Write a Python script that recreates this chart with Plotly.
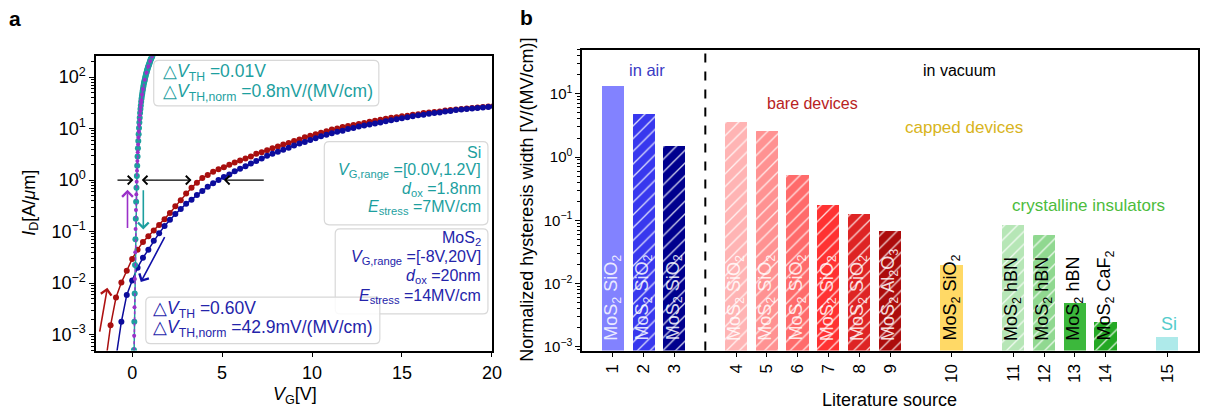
import plotly.graph_objects as go

W, H = 1210, 417
def px(x): return x / W
def py(y): return 1 - y / H

FONT = "Liberation Sans, Arial, sans-serif"
TEAL = "#1d9f9f"
BLUE = "#2424aa"

# ---------------- Panel a data ----------------
mos2_vg = [-1.5, -1.2, -0.9, -0.6, -0.3, 0.0, 0.3, 0.6, 0.9, 1.2, 1.5, 1.8, 2.1, 2.4, 2.7,
           3.0, 3.3, 3.6, 3.9, 4.2, 4.5, 4.8, 5.1, 5.4, 5.7, 6.0, 6.3, 6.6, 6.9, 7.2, 7.5,
           7.8, 8.1, 8.4, 8.7, 9.0, 9.3, 9.6, 9.9, 10.2, 10.5, 10.8, 11.1, 11.4, 11.7, 12.0,
           12.3, 12.6, 12.9, 13.2, 13.5, 13.8, 14.1, 14.4, 14.7, 15.0, 15.3, 15.6, 15.9, 16.2,
           16.5, 16.8, 17.1, 17.4, 17.7, 18.0, 18.3, 18.6, 18.9, 19.2, 19.5, 19.8, 20.1]
# log10(I_D) forward sweep (dark red)
mos2_fwd_log_id = [-3.6, -2.82, -2.28, -1.99, -1.76, -1.53, -1.35, -1.20, -1.09, -0.98, -0.87,
                   -0.76, -0.64, -0.51, -0.39, -0.26, -0.15, -0.05, 0.04, 0.10, 0.16, 0.21, 0.25,
                   0.30, 0.34, 0.38, 0.42, 0.46, 0.51, 0.54, 0.58, 0.62, 0.65, 0.69, 0.72, 0.76,
                   0.79, 0.83, 0.86, 0.89, 0.92, 0.95, 0.98, 1.00, 1.03, 1.05, 1.07, 1.09, 1.11,
                   1.13, 1.15, 1.17, 1.19, 1.21, 1.22, 1.24, 1.25, 1.27, 1.28, 1.30, 1.31, 1.32,
                   1.33, 1.35, 1.36, 1.37, 1.38, 1.39, 1.40, 1.41, 1.42, 1.43, 1.44]
# log10(I_D) reverse sweep (dark blue)
mos2_rev_log_id = [-5.0, -4.2, -3.45, -2.75, -2.23, -1.95, -1.70, -1.51, -1.35, -1.18, -1.03,
                   -0.89, -0.77, -0.66, -0.56, -0.46, -0.38, -0.29, -0.21, -0.13, -0.06, 0.00,
                   0.06, 0.11, 0.17, 0.22, 0.27, 0.32, 0.37, 0.42, 0.47, 0.51, 0.55, 0.59, 0.63,
                   0.67, 0.71, 0.74, 0.78, 0.81, 0.85, 0.88, 0.91, 0.94, 0.96, 0.99, 1.01, 1.04,
                   1.06, 1.08, 1.10, 1.12, 1.14, 1.16, 1.18, 1.20, 1.22, 1.24, 1.26, 1.27, 1.29,
                   1.30, 1.31, 1.33, 1.34, 1.36, 1.37, 1.38, 1.39, 1.40, 1.41, 1.42, 1.43]

si_rev_vg = [0.06, 0.08, 0.10, 0.12, 0.14, 0.16, 0.18, 0.20, 0.22, 0.24, 0.26, 0.28, 0.30, 0.32,
             0.34, 0.36, 0.38, 0.40, 0.42, 0.44, 0.46, 0.48, 0.50, 0.52, 0.54, 0.56, 0.58, 0.60,
             0.62, 0.64, 0.66, 0.68, 0.70, 0.72, 0.74, 0.76, 0.78, 0.80, 0.82, 0.84, 0.86, 0.88,
             0.90, 0.92, 0.94, 0.96, 0.98, 1.00, 1.02, 1.04, 1.06, 1.08, 1.10, 1.12, 1.14, 1.16,
             1.18, 1.20]
si_rev_log_id = [-4.4, -3.85, -3.30, -2.75, -2.20, -1.65, -1.15, -0.75, -0.42, -0.15, 0.08, 0.28,
                 0.46, 0.62, 0.76, 0.89, 1.01, 1.12, 1.21, 1.30, 1.38, 1.45, 1.52, 1.58, 1.63,
                 1.68, 1.73, 1.77, 1.81, 1.85, 1.89, 1.92, 1.95, 1.98, 2.01, 2.04, 2.07, 2.09,
                 2.12, 2.14, 2.16, 2.19, 2.21, 2.23, 2.25, 2.27, 2.29, 2.31, 2.33, 2.35, 2.36,
                 2.38, 2.40, 2.41, 2.43, 2.44, 2.46, 2.47]
si_fwd_vg = [0.07, 0.09, 0.11, 0.13, 0.15, 0.17, 0.19, 0.21, 0.23, 0.25, 0.27, 0.29, 0.31, 0.33,
             0.35, 0.37, 0.39, 0.41, 0.43, 0.45, 0.47, 0.49, 0.51, 0.55, 0.60, 0.70, 0.80, 0.90,
             1.00, 1.10, 1.20]
si_fwd_log_id = [-4.12, -3.57, -3.02, -2.47, -1.92, -1.40, -0.95, -0.58, -0.28, -0.03, 0.18, 0.37,
                 0.54, 0.69, 0.83, 0.95, 1.07, 1.17, 1.26, 1.34, 1.42, 1.49, 1.55, 1.66, 1.77,
                 1.95, 2.09, 2.21, 2.31, 2.40, 2.47]

a_ytick_vals = [1e-3, 1e-2, 1e-1, 1, 10, 100]
a_ytick_text = ["10<sup>−3</sup>", "10<sup>−2</sup>", "10<sup>−1</sup>", "10<sup>0</sup>",
                "10<sup>1</sup>", "10<sup>2</sup>"]
b_ytick_vals = [1e-3, 1e-2, 1e-1, 1, 10]
b_ytick_text = ["10<sup>−3</sup>", "10<sup>−2</sup>", "10<sup>−1</sup>", "10<sup>0</sup>",
                "10<sup>1</sup>"]

# ---------------- Panel b data ----------------
lit_source = ["1", "2", "3", "4", "5", "6", "7", "8", "9", "10", "11", "12", "13", "14", "15"]
lit_pos = [0, 1, 2, 4, 5, 6, 7, 8, 9, 11, 13, 14, 15, 16, 18]
hyst_width = [13.3, 4.9, 1.5, 3.7, 2.6, 0.53, 0.18, 0.13, 0.07, 0.020, 0.087, 0.059,
              0.0050, 0.0025, 0.00145]
bar_colors = ["#8282ff", "#3838ee", "#00008e", "#ffb4b4", "#ff9292", "#ff6b6b", "#ff3232",
              "#de2424", "#ac0c0c", "#ffd966", "#b6e6b6", "#90d890", "#3cb83c", "#24a824",
              "#aeeaea"]
bar_hatch = ["", "/", "/", "/", "/", "/", "/", "/", "/", "", "/", "/", "", "/", ""]
bar_labels = ["MoS<sub>2</sub> SiO<sub>2</sub>"] * 8 + ["MoS<sub>2</sub> Al<sub>2</sub>O<sub>3</sub>",
              "MoS<sub>2</sub> SiO<sub>2</sub>", "MoS<sub>2</sub> hBN", "MoS<sub>2</sub> hBN",
              "MoS<sub>2</sub> hBN", "MoS<sub>2</sub> CaF<sub>2</sub>", ""]
label_colors = ["rgba(255,255,255,0.85)"] * 9 + ["black"] * 5 + ["black"]

fig = go.Figure()

fig.add_trace(go.Scatter(x=mos2_vg, y=[10 ** v for v in mos2_fwd_log_id], mode="lines+markers",
                         line=dict(color="#a80f0f", width=1.5), marker=dict(size=6, color="#a80f0f"),
                         xaxis="x", yaxis="y", showlegend=False))
fig.add_trace(go.Scatter(x=mos2_vg, y=[10 ** v for v in mos2_rev_log_id], mode="lines+markers",
                         line=dict(color="#0c0c9c", width=1.5), marker=dict(size=6, color="#0c0c9c"),
                         xaxis="x", yaxis="y", showlegend=False))
fig.add_trace(go.Scatter(x=si_rev_vg, y=[10 ** v for v in si_rev_log_id], mode="lines+markers",
                         line=dict(color=TEAL, width=1.5), marker=dict(size=6, color=TEAL),
                         xaxis="x", yaxis="y", showlegend=False))
fig.add_trace(go.Scatter(x=si_fwd_vg, y=[10 ** v for v in si_fwd_log_id], mode="lines+markers",
                         line=dict(color="#9a30c8", width=1.5, dash="dot"),
                         marker=dict(size=4, color="#9a30c8"),
                         xaxis="x", yaxis="y", showlegend=False))

# solid bars
fig.add_trace(go.Bar(x=lit_pos, y=hyst_width, width=0.72, xaxis="x2", yaxis="y2",
                     marker=dict(color=bar_colors, line=dict(width=0)), showlegend=False))
# white hatch overlay on the hatched bars
hatch_colors = ["rgba(255,255,255,0.8)" if h else "rgba(0,0,0,0)" for h in bar_hatch]
fig.add_trace(go.Bar(x=lit_pos, y=hyst_width, width=0.72, xaxis="x2", yaxis="y2",
                     marker=dict(color=hatch_colors, line=dict(width=0),
                                 pattern=dict(shape=bar_hatch, fillmode="replace", size=9,
                                              solidity=0.15)),
                     showlegend=False))

axis_common = dict(showline=True, linecolor="black", linewidth=1.5, mirror=True, ticks="outside",
                   tickcolor="black", showgrid=False, zeroline=False)

def minor_vals(lo, hi):
    out = []
    for k in range(lo, hi):
        for m in range(2, 10):
            out.append(m * 10.0 ** k)
    return out

fig.update_layout(
    width=W, height=H, margin=dict(l=0, r=0, t=0, b=0),
    paper_bgcolor="white", plot_bgcolor="white",
    font=dict(family=FONT, color="black"),
    barmode="overlay", bargap=0,
    xaxis=dict(domain=[px(97), px(496)], range=[-2, 20], tickvals=[0, 5, 10, 15, 20],
               ticklen=5, tickfont=dict(size=18), anchor="y", **axis_common),
    yaxis=dict(domain=[py(354), py(57)], type="log", range=[-3.31, 2.40],
               tickvals=a_ytick_vals, ticktext=a_ytick_text,
               ticklen=5, tickfont=dict(size=18), anchor="x",
               minor=dict(ticks="outside", ticklen=3, tickcolor="black", showgrid=False,
                          tickvals=minor_vals(-4, 3)),
               **axis_common),
    xaxis2=dict(domain=[px(587), px(1208)], range=[-1, 19], tickvals=lit_pos, ticktext=lit_source,
                tickangle=-90, ticklen=5, tickfont=dict(size=17), anchor="y2", **axis_common),
    yaxis2=dict(domain=[py(354), py(50)], type="log", range=[-3.06, 1.70],
                tickvals=b_ytick_vals, ticktext=b_ytick_text,
                ticklen=5, tickfont=dict(size=15), anchor="x2",
                minor=dict(ticks="outside", ticklen=3, tickcolor="black", showgrid=False,
                           tickvals=minor_vals(-4, 2)),
                **axis_common),
)

shapes = []
# dashed separator in panel b
shapes.append(dict(type="line", xref="x2", yref="paper", x0=3, x1=3, y0=py(354), y1=py(50),
                   line=dict(color="black", width=2, dash="dash")))

def rbox(x0, y0, x1, y1, r=5):
    X = lambda v: px(v)
    Y = lambda v: py(v)
    p = (f"M{X(x0 + r)},{Y(y0)} L{X(x1 - r)},{Y(y0)} Q{X(x1)},{Y(y0)} {X(x1)},{Y(y0 + r)} "
         f"L{X(x1)},{Y(y1 - r)} Q{X(x1)},{Y(y1)} {X(x1 - r)},{Y(y1)} "
         f"L{X(x0 + r)},{Y(y1)} Q{X(x0)},{Y(y1)} {X(x0)},{Y(y1 - r)} "
         f"L{X(x0)},{Y(y0 + r)} Q{X(x0)},{Y(y0)} {X(x0 + r)},{Y(y0)} Z")
    return dict(type="path", xref="paper", yref="paper", path=p, layer="above",
                fillcolor="rgba(255,255,255,0.85)", line=dict(color="#d8d8d8", width=1.2))

shapes += [rbox(155, 61, 382, 107), rbox(327, 143, 492, 227), rbox(338, 231, 492, 317),
           rbox(147, 300, 383, 347)]
fig.update_layout(shapes=shapes)

ann = []
def text(x, y, s, size=16, color="black", xanchor="center", yanchor="middle", angle=0, bold=False):
    if bold:
        s = f"<b>{s}</b>"
    ann.append(dict(xref="paper", yref="paper", x=px(x), y=py(y), text=s, showarrow=False,
                    xanchor=xanchor, yanchor=yanchor, textangle=angle,
                    font=dict(size=size, color=color, family=FONT)))

# panel labels
text(15, 19, "a", size=21, bold=True)
text(531, 18, "b", size=21, bold=True)

# axis titles
text(297, 399, "<i>V</i><sub>G</sub>[V]", size=18)
text(30, 205, "<i>I</i><sub>D</sub>[A/<i>μ</i>m]", size=18, angle=-90)
text(531, 202, "Normalized hysteresis width [V/(MV/cm)]", size=18, angle=-90)
text(897, 404, "Literature source", size=18)

# text boxes panel a
text(162, 73, "△<i>V</i><sub>TH</sub> =0.01V", size=17.5, color=TEAL, xanchor="left")
text(162, 93, "△<i>V</i><sub>TH,norm</sub> =0.8mV/(MV/cm)", size=17.5, color=TEAL, xanchor="left")
text(152, 313, "△<i>V</i><sub>TH</sub> =0.60V", size=17.5, color=BLUE, xanchor="left")
text(152, 332, "△<i>V</i><sub>TH,norm</sub> =42.9mV/(MV/cm)", size=17.5, color=BLUE, xanchor="left")
si_lines = ["Si", "<i>V</i><sub>G,range</sub> =[0.0V,1.2V]", "<i>d</i><sub>ox</sub> =1.8nm",
            "<i>E</i><sub>stress</sub> =7MV/cm"]
for i, s in enumerate(si_lines):
    text(487, 154 + 18.5 * i, s, color=TEAL, xanchor="right")
mos_lines = ["MoS<sub>2</sub>", "<i>V</i><sub>G,range</sub> =[-8V,20V]", "<i>d</i><sub>ox</sub> =20nm",
             "<i>E</i><sub>stress</sub> =14MV/cm"]
for i, s in enumerate(mos_lines):
    text(487, 241 + 19.3 * i, s, color=BLUE, xanchor="right")

# panel b group labels
text(652, 71, "in air", size=16.5, color="#3a3ac4")
text(967, 71, "in vacuum", size=16, color="black")
text(819, 104, "bare devices", size=16, color="#b82222")
text(972, 129, "capped devices", size=17, color="#d8b420")
text(1098, 207, "crystalline insulators", size=17, color="#4cbc3c")
text(1179, 327, "Si", size=18, color="#55cccc")

# bar labels
for p, lab, c in zip(lit_pos, bar_labels, label_colors):
    if lab:
        ann.append(dict(xref="x2", yref="y2", x=p, y=-3, text=lab, showarrow=False,
                        textangle=-90, xanchor="center", yanchor="bottom", yshift=4,
                        font=dict(size=18, color=c, family=FONT)))

# arrows panel a
def arrow(x, y, ax, ay, color="black", width=1.3, side="end", head=4, size=1.3):
    ann.append(dict(xref="x", yref="y", axref="x", ayref="y", x=x, y=y, ax=ax, ay=ay,
                    showarrow=True, arrowhead=head, startarrowhead=head, arrowside=side,
                    arrowwidth=width, arrowsize=size, startarrowsize=size, arrowcolor=color,
                    text=""))

arrow(0.07, 0, -0.9, 0)
arrow(3.3, 0, 0.45, 0, side="end+start")
arrow(5.1, 0, 7.4, 0)
arrow(-0.26, -0.19, -0.26, -0.96, color="#9a30c8", width=1.6)
arrow(0.62, -0.96, 0.62, -0.17, color=TEAL, width=1.6)
arrow(-1.38, -2.09, -1.82, -2.97, color="#b01212", width=1.6)
arrow(0.48, -1.98, 1.85, -1.08, color="#1010a8", width=1.6)

fig.update_layout(annotations=ann)
fig.write_html("out.html")
